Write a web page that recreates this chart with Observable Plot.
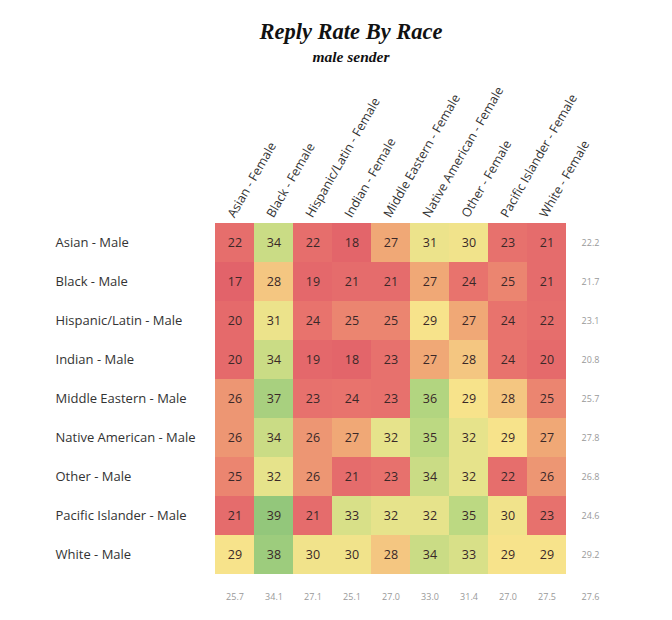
<!DOCTYPE html>
<html>
<head>
<meta charset="utf-8">
<script src="https://cdn.jsdelivr.net/npm/d3@7"></script>
<script src="https://cdn.jsdelivr.net/npm/@observablehq/plot@0.6"></script>
<style>
  html, body { margin: 0; padding: 0; background: #fff; }
  #wrap { width: 672px; height: 620px; position: relative; overflow: hidden; }
  #head { height: 70px; text-align: center; font-family: "Liberation Serif", "DejaVu Serif", serif; font-style: italic; font-weight: bold; color: #111; }
  #title { position: absolute; left: 0; right: 0; top: 21px; font-size: 22.5px; padding-left: 30px; line-height: 1; }
  #subtitle { position: absolute; left: 0; right: 0; top: 49px; font-size: 15.5px; padding-left: 30px; line-height: 1; }
  svg { display: block; }
</style>
</head>
<body>
<div id="wrap">
  <div id="head"><div id="title">Reply Rate By Race</div><div id="subtitle">male sender</div></div>
  <div id="chart"></div>
</div>
<script>
const columns = ["Asian - Female","Black - Female","Hispanic/Latin - Female","Indian - Female","Middle Eastern - Female","Native American - Female","Other - Female","Pacific Islander - Female","White - Female"];
const rows = ["Asian - Male","Black - Male","Hispanic/Latin - Male","Indian - Male","Middle Eastern - Male","Native American - Male","Other - Male","Pacific Islander - Male","White - Male"];
const values = [
  [22,34,22,18,27,31,30,23,21],
  [17,28,19,21,21,27,24,25,21],
  [20,31,24,25,25,29,27,24,22],
  [20,34,19,18,23,27,28,24,20],
  [26,37,23,24,23,36,29,28,25],
  [26,34,26,27,32,35,32,29,27],
  [25,32,26,21,23,34,32,22,26],
  [21,39,21,33,32,32,35,30,23],
  [29,38,30,30,28,34,33,29,29]
];
const rowAverages = ["22.2","21.7","23.1","20.8","25.7","27.8","26.8","24.6","29.2"];
const columnAverages = ["25.7","34.1","27.1","25.1","27.0","33.0","31.4","27.0","27.5"];
const overallAverage = "27.6";

const cells = [];
rows.forEach((r, i) => columns.forEach((c, j) => cells.push({row: r, col: c, value: values[i][j]})));
const rowAvg = rows.map((r, i) => ({row: r, text: rowAverages[i]}));
const colAvg = columns.map((c, j) => ({col: c, text: columnAverages[j]}));

const chart = Plot.plot({
  width: 672,
  height: 550,
  marginTop: 152,
  marginBottom: 45,
  marginLeft: 213,
  marginRight: 104,
  style: {fontFamily: "'Open Sans', 'Liberation Sans', sans-serif", background: "#fff"},
  x: {domain: columns, padding: 0, label: null},
  y: {domain: rows, padding: 0, label: null},
  color: {
    type: "linear",
    domain: [17, 24, 27, 29, 32, 35, 39],
    range: ["#e2636a", "#e8736d", "#f0a876", "#f7e38b", "#e6e38b", "#bcd982", "#93c77b"],
    interpolate: "rgb",
    clamp: true
  },
  marks: [
    Plot.cell(cells, {x: "col", y: "row", fill: "value", inset: 0}),
    Plot.text(cells, {x: "col", y: "row", text: d => String(d.value), fill: "#3a2828", fontSize: 12.5}),
    Plot.axisY({tickSize: 0, tickPadding: 3, textAnchor: "start", dx: -155, fontSize: 13, fill: "#333", label: null}),
    Plot.axisX({anchor: "top", tickSize: 0, tickPadding: 6, tickRotate: -60, textAnchor: "start", dx: -4, fontSize: 12.5, fill: "#333", label: null}),
    Plot.text(rowAvg, {y: "row", text: "text", frameAnchor: "right", dx: 22, textAnchor: "middle", fill: "#999", fontSize: 9}),
    Plot.text(colAvg, {x: "col", text: "text", frameAnchor: "bottom", dy: 24, fill: "#999", fontSize: 9}),
    Plot.text([overallAverage], {text: d => d, frameAnchor: "bottom-right", dx: 22, dy: 24, textAnchor: "middle", fill: "#999", fontSize: 9})
  ]
});
document.getElementById("chart").appendChild(chart);
</script>
</body>
</html>
